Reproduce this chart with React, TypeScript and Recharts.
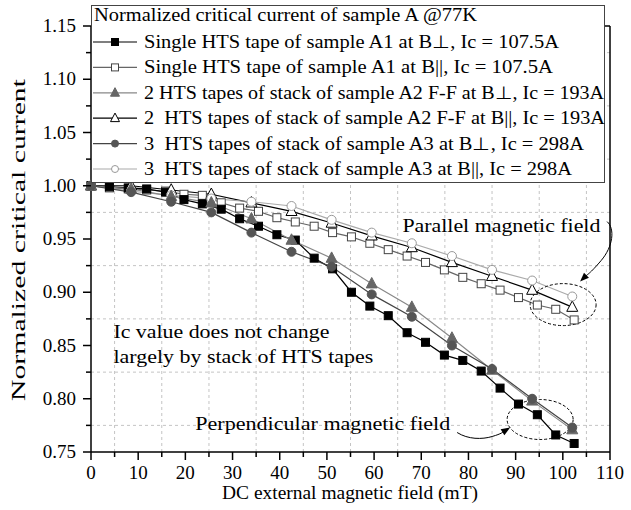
import React from "react";
import { LineChart, Line, XAxis, YAxis, ReferenceLine, ReferenceDot, Legend } from "recharts";

const FONT = "'Liberation Serif', 'Times New Roman', Times, serif";
const txt = { fontFamily: FONT };

// single tape (A1), measured every ~4 mT
const fieldSingle = [0, 3.9, 7.9, 11.8, 15.8, 19.7, 23.6, 27.6, 31.5, 35.5, 39.4, 43.3, 47.3, 51.2, 55.2, 59.1, 63, 67, 70.9, 74.9, 78.8, 82.7, 86.7, 90.6, 94.6, 98.5, 102.4];
const a1Perp = [1.0, 0.999, 0.998, 0.997, 0.994, 0.987, 0.983, 0.978, 0.969, 0.962, 0.954, 0.949, 0.932, 0.922, 0.9, 0.887, 0.878, 0.862, 0.853, 0.841, 0.836, 0.826, 0.81, 0.795, 0.785, 0.766, 0.758];
const a1Par = [1.0, 0.998, 0.997, 0.996, 0.995, 0.992, 0.991, 0.984, 0.979, 0.976, 0.97, 0.966, 0.962, 0.956, 0.952, 0.946, 0.94, 0.934, 0.928, 0.921, 0.914, 0.908, 0.902, 0.895, 0.888, 0.884, 0.874];

// stacks (A2, A3), measured every ~8.5 mT
const fieldStack = [0, 8.5, 17, 25.5, 34, 42.5, 51, 59.5, 68, 76.5, 85, 93.5, 102];
const a2Perp = [1.0, 0.997, 0.99, 0.984, 0.969, 0.949, 0.932, 0.908, 0.886, 0.857, 0.827, 0.798, 0.771];
const a2Par = [1.0, 1.0, 0.996, 0.992, 0.984, 0.976, 0.965, 0.953, 0.942, 0.928, 0.915, 0.902, 0.886];
const a3Perp = [1.0, 0.994, 0.985, 0.975, 0.956, 0.938, 0.924, 0.898, 0.877, 0.85, 0.828, 0.8, 0.773];
const a3Par = [1.0, 0.995, 0.991, 0.988, 0.985, 0.981, 0.968, 0.956, 0.946, 0.934, 0.921, 0.911, 0.896];

const xMajor = [0, 10, 20, 30, 40, 50, 60, 70, 80, 90, 100, 110];
const xMinor = [5, 15, 25, 35, 45, 55, 65, 75, 85, 95, 105];
const yMajor = [0.75, 0.8, 0.85, 0.9, 0.95, 1.0, 1.05, 1.1, 1.15];
const yMinor = [0.775, 0.825, 0.875, 0.925, 0.975, 1.025, 1.075, 1.125];

const legendTitle = "Normalized critical current of sample A @77K";
const legendNames = [
  "Single HTS tape of sample A1 at B\u22A5, Ic = 107.5A",
  "Single HTS tape of sample A1 at B||, Ic = 107.5A",
  "2 HTS tapes of stack of sample A2 F-F at B\u22A5, Ic = 193A",
  "2  HTS tapes of stack of sample A2 F-F at B||, Ic = 193A",
  "3  HTS tapes of stack of sample A3 at B\u22A5, Ic = 298A",
  "3  HTS tapes of stack of sample A3 at B||, Ic = 298A",
];

const toPoints = (xs: number[], ys: number[]) => xs.map((b, i) => ({ b, ic: ys[i] }));

const isMajor = (list: number[], v: number) => list.some((t) => Math.abs(t - v) < 1e-6);

type Mark = "square" | "triangle" | "circle";

const marker = (kind: Mark, fill: string, stroke: string, size: number, cx: number, cy: number, key?: any) => {
  if (kind === "square")
    return <rect key={key} x={cx - size / 2} y={cy - size / 2} width={size} height={size} fill={fill} stroke={stroke} strokeWidth={1} />;
  if (kind === "triangle") {
    const h = size * 0.95;
    const pts = `${cx},${cy - h * 0.6} ${cx - size / 2},${cy + h * 0.4} ${cx + size / 2},${cy + h * 0.4}`;
    return <polygon key={key} points={pts} fill={fill} stroke={stroke} strokeWidth={1} />;
  }
  return <circle key={key} cx={cx} cy={cy} r={size / 2} fill={fill} stroke={stroke} strokeWidth={1} />;
};

const series = [
  { name: legendNames[0], field: fieldSingle, vals: a1Perp, kind: "square" as Mark, fill: "#000", stroke: "#000", line: "#000", size: 8, legSize: 7 },
  { name: legendNames[1], field: fieldSingle, vals: a1Par, kind: "square" as Mark, fill: "#fff", stroke: "#444", line: "#666", size: 8, legSize: 7 },
  { name: legendNames[2], field: fieldStack, vals: a2Perp, kind: "triangle" as Mark, fill: "#666", stroke: "#666", line: "#888", size: 11, legSize: 9 },
  { name: legendNames[3], field: fieldStack, vals: a2Par, kind: "triangle" as Mark, fill: "#fff", stroke: "#000", line: "#000", size: 11, legSize: 9 },
  { name: legendNames[4], field: fieldStack, vals: a3Perp, kind: "circle" as Mark, fill: "#555", stroke: "#555", line: "#444", size: 9, legSize: 7 },
  { name: legendNames[5], field: fieldStack, vals: a3Par, kind: "circle" as Mark, fill: "#fff", stroke: "#999", line: "#aaa", size: 9, legSize: 7 },
];

// draw order: open markers first, filled on top
const drawOrder = [1, 0, 3, 5, 2, 4];

const legendLengths = [415, 409, 460, 461, 440, 428];

const LegendBox = () => (
  <svg width={514} height={178} style={{ display: "block" }}>
    <rect x={0.5} y={0.5} width={513} height={177} fill="#fff" stroke="#444" strokeWidth={1} />
    <text x={3} y={16} style={txt} fontSize={18} textLength={383} lengthAdjust="spacingAndGlyphs" fill="#000">
      {legendTitle}
    </text>
    {series.map((s, i) => {
      const cy = 37 + i * 25.4;
      return (
        <g key={s.name}>
          <line x1={2} x2={46} y1={cy} y2={cy} stroke={s.line} strokeWidth={1.2} />
          {marker(s.kind, s.fill, s.stroke, s.legSize, 24, cy)}
          <text x={53} y={cy + 6} style={txt} fontSize={18} textLength={legendLengths[i]} lengthAdjust="spacingAndGlyphs" fill="#000" xmlSpace="preserve">
            {s.name}
          </text>
        </g>
      );
    })}
  </svg>
);

const XTick = (props: any) => {
  const { x, y, payload } = props;
  const major = isMajor(xMajor, payload.value);
  return (
    <g>
      <line x1={x} x2={x} y1={y} y2={y + (major ? 8 : 5)} stroke="#000" strokeWidth={1.5} />
      {major && (
        <text x={x} y={y + 27} textAnchor="middle" style={txt} fontSize={19} fill="#000">
          {payload.value}
        </text>
      )}
    </g>
  );
};

const YTick = (props: any) => {
  const { x, y, payload } = props;
  const major = isMajor(yMajor, payload.value);
  return (
    <g>
      <line x1={x - (major ? 8 : 5)} x2={x} y1={y} y2={y} stroke="#000" strokeWidth={1.5} />
      {major && (
        <text x={x - 15} y={y + 6} textAnchor="end" style={txt} fontSize={19} fill="#000">
          {payload.value.toFixed(2)}
        </text>
      )}
    </g>
  );
};

const arrowHead = (tx: number, ty: number, fx: number, fy: number) => {
  const dx = tx - fx;
  const dy = ty - fy;
  const l = Math.hypot(dx, dy);
  const ux = dx / l;
  const uy = dy / l;
  const bx = tx - ux * 9;
  const by = ty - uy * 9;
  return `${tx},${ty} ${bx - uy * 3.5},${by + ux * 3.5} ${bx + uy * 3.5},${by - ux * 3.5}`;
};

const AnnoText = (text: string, len: number) => (p: any) => (
  <text x={p.cx} y={p.cy} style={txt} fontSize={19} fill="#000" textLength={len} lengthAdjust="spacingAndGlyphs">
    {text}
  </text>
);

const ParallelMark = (p: any) => {
  const { cx, cy } = p;
  return (
    <g>
      <ellipse cx={cx} cy={cy} rx={33} ry={21} fill="none" stroke="#000" strokeWidth={1} strokeDasharray="3 2" />
      <path d={`M ${cx + 44} ${cy - 83} C ${cx + 52} ${cy - 76}, ${cx + 50} ${cy - 58}, ${cx + 38} ${cy - 44} S ${cx + 25} ${cy - 31}, ${cx + 21} ${cy - 27}`} fill="none" stroke="#000" strokeWidth={1} />
      <polygon points={arrowHead(cx + 17, cy - 23, cx + 24, cy - 30)} fill="#000" />
    </g>
  );
};

const PerpMark = (p: any) => {
  const { cx, cy } = p;
  return (
    <g>
      <ellipse cx={cx} cy={cy} rx={33} ry={20} fill="none" stroke="#000" strokeWidth={1} strokeDasharray="3 2" />
      <path d={`M ${cx - 83} ${cy + 13} C ${cx - 72} ${cy + 20}, ${cx - 58} ${cy + 20}, ${cx - 48} ${cy + 17} S ${cx - 38} ${cy + 13}, ${cx - 35} ${cy + 11}`} fill="none" stroke="#000" strokeWidth={1} />
      <polygon points={arrowHead(cx - 30, cy + 8, cx - 38, cy + 13)} fill="#000" />
    </g>
  );
};

export default function App() {
  return (
    <div style={{ position: "absolute", left: 0, top: 0, width: 631, height: 510, background: "#fff", fontFamily: FONT }}>
      <LineChart width={631} height={510} margin={{ top: 26, right: 21, left: 31, bottom: 28 }}>
        {xMinor.map((v) => (
          <ReferenceLine key={"gx" + v} x={v} stroke="#c4c4c4" strokeDasharray="3 3" />
        ))}
        {yMinor.map((v) => (
          <ReferenceLine key={"gy" + v} y={v} stroke="#c4c4c4" strokeDasharray="3 3" />
        ))}
        <ReferenceLine x={110} stroke="#000" strokeWidth={1.5} />
        <ReferenceLine y={1.15} stroke="#000" strokeWidth={1.5} />
        <XAxis
          type="number"
          dataKey="b"
          domain={[0, 110]}
          ticks={[...xMajor, ...xMinor].sort((a, b) => a - b)}
          interval={0}
          height={30}
          tickSize={0}
          tickMargin={0}
          tickLine={false}
          axisLine={{ stroke: "#000", strokeWidth: 1.5 }}
          tick={<XTick />}
          label={{
            content: () => (
              <text x={350} y={499} textAnchor="middle" style={txt} fontSize={19} fill="#000" textLength={256} lengthAdjust="spacingAndGlyphs">
                DC external magnetic field (mT)
              </text>
            ),
          }}
        />
        <YAxis
          type="number"
          domain={[0.75, 1.15]}
          ticks={[...yMajor, ...yMinor].sort((a, b) => a - b)}
          interval={0}
          width={60}
          tickSize={0}
          tickMargin={0}
          tickLine={false}
          axisLine={{ stroke: "#000", strokeWidth: 1.5 }}
          tick={<YTick />}
          label={{
            content: () => (
              <text x={25} y={240} transform="rotate(-90, 25, 240)" textAnchor="middle" style={txt} fontSize={18} fill="#000" textLength={322} lengthAdjust="spacingAndGlyphs">
                Normalized critical current
              </text>
            ),
          }}
        />
        {drawOrder.map((i) => {
          const s = series[i];
          return (
            <Line
              key={s.name}
              name={s.name}
              data={toPoints(s.field, s.vals)}
              dataKey="ic"
              type="linear"
              stroke={s.line}
              strokeWidth={1.2}
              isAnimationActive={false}
              activeDot={false}
              dot={(p: any) => marker(s.kind, s.fill, s.stroke, s.size, p.cx, p.cy, p.index)}
            />
          );
        })}
        <ReferenceDot x={66} y={0.957} ifOverflow="visible" shape={AnnoText("Parallel magnetic field", 198)} />
        <ReferenceDot x={4.75} y={0.857} ifOverflow="visible" shape={AnnoText("Ic value does not change", 216)} />
        <ReferenceDot x={4.75} y={0.834} ifOverflow="visible" shape={AnnoText("largely by stack of HTS tapes", 260)} />
        <ReferenceDot x={22.1} y={0.771} ifOverflow="visible" shape={AnnoText("Perpendicular magnetic field", 255)} />
        <ReferenceDot x={100.06} y={0.8884} ifOverflow="visible" shape={ParallelMark} />
        <ReferenceDot x={95.19} y={0.7805} ifOverflow="visible" shape={PerpMark} />
        <Legend
          layout="vertical"
          align="center"
          verticalAlign="middle"
          wrapperStyle={{ position: "absolute", top: 5, left: 91, width: 514, height: 178 }}
          content={() => <LegendBox />}
        />
      </LineChart>
    </div>
  );
}
